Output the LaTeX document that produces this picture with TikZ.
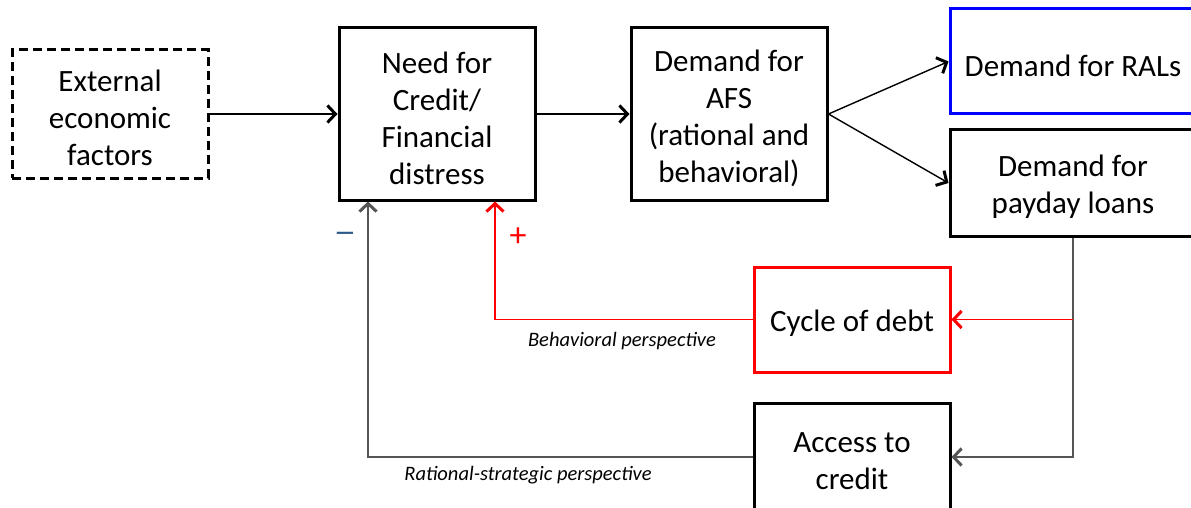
\documentclass[tikz,border=0pt]{standalone}
\usepackage{fontspec}
\setmainfont{Carlito}
\newfontfamily\symfont{DejaVu Sans}
\usetikzlibrary{arrows.meta}
\definecolor{minusblue}{HTML}{2E5A8A}
\definecolor{fbgray}{HTML}{555555}
\begin{document}
\begin{tikzpicture}[x=1pt,y=-1pt,
  box/.style={draw,line width=3pt,rectangle,inner sep=0pt},
  boxtext/.style={align=center,inner sep=0pt,yshift=-4pt,
    font=\fontsize{31}{37}\selectfont},
  arr/.style={line width=1.4pt,-{Straight Barb[length=8pt,width=17pt,line width=3pt]}},
  lab/.style={font=\fontsize{20.5}{24}\selectfont\itshape,inner sep=0pt},
  sign/.style={inner sep=0pt}]
\useasboundingbox (0,0) rectangle (1191,508);
\clip (0,0) rectangle (1191,508);
\node[box,dashed,dash pattern=on 9pt off 5pt,minimum width=196pt,minimum height=128pt,
  label={[boxtext]center:External\\economic\\factors}] (ext) at (110,114) {};
\node[box,minimum width=196pt,minimum height=172pt,
  label={[boxtext]center:Need for\\Credit/\\Financial\\distress}] (need) at (437,114) {};
\node[box,minimum width=196pt,minimum height=172pt,
  label={[boxtext]center:Demand for\\AFS\\(rational and\\behavioral)}] (afs) at (729,114) {};
\node[box,draw=blue,minimum width=246pt,minimum height=105pt,
  label={[boxtext]center:Demand for RALs}] (ral) at (1073,61.5) {};
\node[box,minimum width=246pt,minimum height=106pt,
  label={[boxtext]center:Demand for\\payday loans}] (pay) at (1073,183) {};
\node[box,draw=red,minimum width=196pt,minimum height=105pt,
  label={[boxtext]center:Cycle of debt}] (cyc) at (852,319.5) {};
\node[box,minimum width=196pt,minimum height=108pt,
  label={[boxtext]center:Access to\\credit}] (acc) at (852,457) {};
\coordinate (j1) at (pay.south |- cyc.east);
\coordinate (redin) at ([xshift=58pt]need.south);
\coordinate (blkin) at ([xshift=-69pt]need.south);
\draw[arr] (ext.east) -- (need.west);
\draw[arr] (need.east) -- (afs.west);
\draw[arr] (afs.east) -- (ral.west);
\draw[arr] (afs.east) -- (pay.west);
\draw[arr,draw=fbgray] (pay.south) |- (acc.east);
\draw[arr,red] (j1) -- (cyc.east);
\draw[arr,red] (cyc.west) -| (redin);
\draw[arr,draw=fbgray] (acc.west) -| (blkin);
\node[lab] (lb1) at (622,341) {Behavioral perspective};
\node[lab] (lb2) at (528,475) {Rational-strategic perspective};
\node[sign,text=minusblue,font=\symfont\fontsize{26}{28}\selectfont] (minus) at (345,237) {−};
\node[sign,text=red,font=\fontsize{34}{36}\selectfont] (plus) at (518,237) {+};
\end{tikzpicture}
\end{document}
